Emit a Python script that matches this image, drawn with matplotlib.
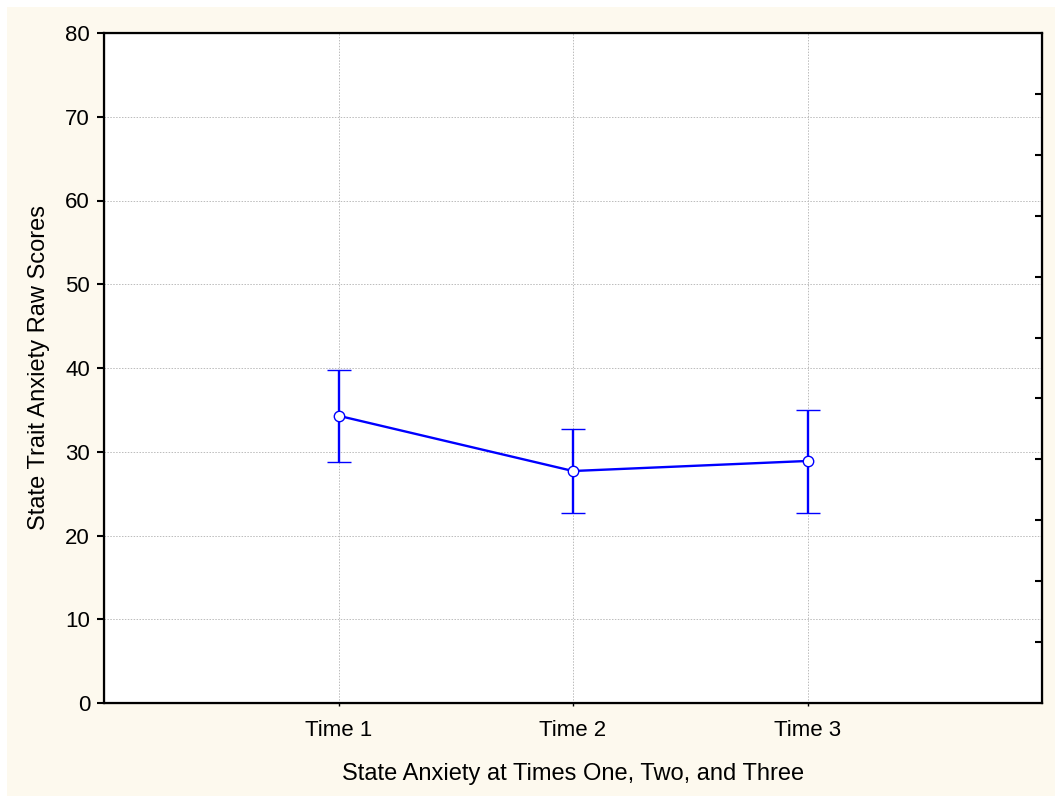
import matplotlib.pyplot as plt
import matplotlib.patches as mpatches
import numpy as np

# Data
time_labels = ['Time 1', 'Time 2', 'Time 3']
means = [34.3, 27.7, 28.9]
upper = [39.8, 32.7, 35.0]
lower = [28.8, 22.7, 22.7]

BLUE = '#0000FF'
CREAM = '#FDF9EE'
FONT = 'Liberation Sans'

plt.rcParams['font.family'] = FONT

fig = plt.figure(figsize=(10.55, 7.96), dpi=100, facecolor='white')
# cream panel behind the plot
fig.patches.append(mpatches.Rectangle((7 / 1055, 0), 1 - 7 / 1055, 1 - 7 / 796,
                                      transform=fig.transFigure, facecolor=CREAM,
                                      edgecolor='none', zorder=-10))

ax = fig.add_axes([104 / 1055, 93 / 796, 938 / 1055, 670 / 796])
ax.set_facecolor('white')

x = np.arange(1, len(time_labels) + 1)
m = np.array(means)
yerr = [m - np.array(lower), np.array(upper) - m]

ax.errorbar(x, m, yerr=yerr, color=BLUE, lw=1.7, elinewidth=1.7,
            capsize=8.5, capthick=1.7, marker='o', markersize=7.5,
            markerfacecolor='white', markeredgecolor=BLUE, markeredgewidth=1.0,
            zorder=3)

ax.set_xlim(0, 4)
ax.set_ylim(0, 80)
ax.set_xticks(x)
ax.set_xticklabels(time_labels)
ax.set_yticks(np.arange(0, 81, 10))

ax.grid(True, color='#BBBBBB', linestyle=(0, (1.5, 1.5)), linewidth=0.7)
ax.set_axisbelow(True)

for s in ax.spines.values():
    s.set_linewidth(1.6)
    s.set_color('black')

ax.tick_params(axis='y', direction='out', length=5, width=1.5, labelsize=16, pad=5)
ax.tick_params(axis='x', direction='out', length=2, width=1, labelsize=16, pad=10)

# right-hand inward ticks
ax2 = ax.twinx()
ax2.set_ylim(0, 80)
ax2.set_yticks(np.linspace(0, 80, 12)[1:-1])
ax2.tick_params(axis='y', direction='in', length=5, width=1.5, labelright=False)

ax.set_xlabel('State Anxiety at Times One, Two, and Three', fontsize=17, labelpad=16)
ax.set_ylabel('State Trait Anxiety Raw Scores', fontsize=17, labelpad=11)

plt.savefig('out.png', dpi=100, facecolor=fig.get_facecolor())
plt.close()
